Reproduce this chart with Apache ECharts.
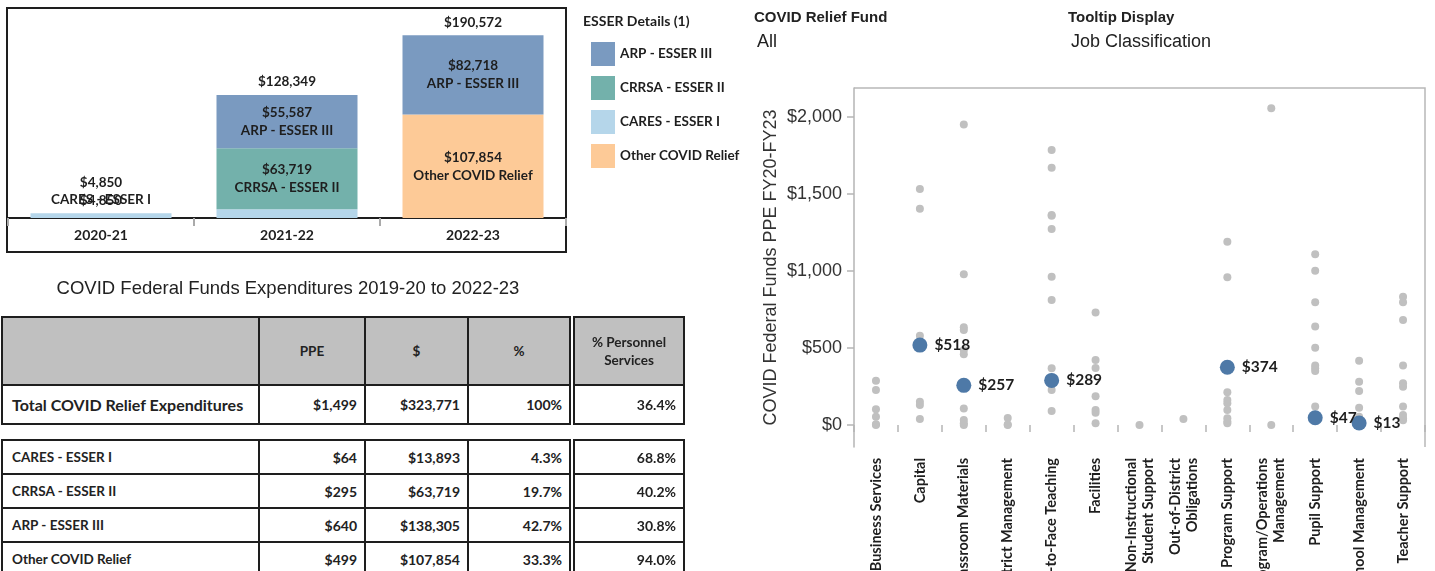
<!DOCTYPE html>
<html>
<head>
<meta charset="utf-8">
<title>COVID Federal Funds</title>
<script src="https://cdn.jsdelivr.net/npm/echarts@6/dist/echarts.min.js"></script>
<style>
  html, body { margin: 0; padding: 0; background: #fff; }
  #main { position: absolute; left: 0; top: 0; width: 1435px; height: 571px; }
  #tbl { position: absolute; left: 0; top: 0; }
  .cell { position: absolute; box-sizing: border-box; border: 2px solid #1e1e1e; background: #fff;
          display: flex; align-items: center; font-family: Lato, "Noto Sans", sans-serif;
          font-weight: bold; color: #222; font-size: 13.5px; overflow: hidden; }
</style>
</head>
<body>
<div id="main"></div>
<div id="tbl"></div>
<script>
// ---- stacked bars (ESSER details by year)
var years = ['2020-21', '2021-22', '2022-23'];
var caresVals = [4850, 9043, null];
var crrsaVals = [null, 63719, null];
var otherVals = [null, null, 107854];
var arpVals = [null, 55587, 82718];
var yearTotals = [4850, 128349, 190572];

// ---- table
var tableHead = ['PPE', '$', '%', '% Personnel\nServices'];
var totalRow = ['Total COVID Relief Expenditures', '$1,499', '$323,771', '100%', '36.4%'];
var fundNames = ['CARES - ESSER I', 'CRRSA - ESSER II', 'ARP - ESSER III', 'Other COVID Relief'];
var fundPPE = ['$64', '$295', '$640', '$499'];
var fundDollars = ['$13,893', '$63,719', '$138,305', '$107,854'];
var fundPct = ['4.3%', '19.7%', '42.7%', '33.3%'];
var fundPersonnel = ['68.8%', '40.2%', '30.8%', '94.0%'];

// ---- scatter (PPE by job classification)
var jobClasses = ['Business Services', 'Capital', 'Classroom Materials', 'District Management',
  'Face-to-Face Teaching', 'Facilities', 'Non-Instructional\nStudent Support', 'Out-of-District\nObligations',
  'Program Support', 'Program/Operations\nManagement', 'Pupil Support', 'School Management', 'Teacher Support'];
var districtPPE = [
  [287, 227, 102, 54, 4, 0],
  [1530, 1403, 579, 151, 130, 39],
  [1950, 977, 634, 616, 486, 458, 274, 248, 106, 32, 11, 0],
  [45, 3, 0],
  [1783, 1669, 1362, 1357, 1271, 962, 811, 368, 309, 227, 91],
  [729, 422, 370, 186, 97, 80, 11],
  [0],
  [39],
  [1189, 958, 212, 162, 141, 97, 43, 22, 11],
  [2054, 0],
  [1107, 1001, 796, 638, 501, 385, 368, 350, 119, 52],
  [417, 281, 220, 112, 54, 20],
  [832, 796, 681, 385, 270, 248, 119, 65, 43, 30]
];
var avgPPE = [null, 518, 257, null, 289, null, null, null, 374, null, 47, 13, null];
var yTicks = [0, 500, 1000, 1500, 2000];

var fontBook = 'Lato, "Noto Sans", sans-serif';
var fontArial = '"Liberation Sans", Arial, sans-serif';

function money(v) {
  return '$' + Number(v).toLocaleString('en-US');
}

var segLabel = {
  show: true, position: 'inside', fontFamily: fontBook, fontWeight: 700, fontSize: 13.5,
  color: '#1e1e1e', lineHeight: 18, textBorderWidth: 0,
  formatter: function (p) {
    return p.value > 20000 ? money(p.value) + '\n' + p.seriesName : '';
  }
};

function barSeries(name, vals, color) {
  return {
    name: name, type: 'bar', stack: 'esser', barWidth: 141,
    xAxisIndex: 0, yAxisIndex: 0,
    itemStyle: { color: color },
    label: segLabel,
    data: vals.map(function (v, i) {
      // the tiny 2020-21 segment gets its name drawn above the bar
      if (name === 'CARES - ESSER I' && i === 0) {
        return { value: v, label: { position: 'top', distance: 5, formatter: name } };
      }
      return v;
    })
  };
}

var greyPoints = [];
districtPPE.forEach(function (arr, i) {
  arr.forEach(function (v) { greyPoints.push([i, v]); });
});
var avgPoints = [];
avgPPE.forEach(function (v, i) {
  if (v !== null) avgPoints.push([i, v]);
});

var chart = echarts.init(document.getElementById('main'));

var option = {
  animation: false,
  grid: [
    { left: 8, top: 9, width: 558, height: 209, outerBoundsMode: 'none', containLabel: false },
    { left: 854, top: 88, width: 571, height: 359, outerBoundsMode: 'none', containLabel: false }
  ],
  legend: {
    data: ['ARP - ESSER III', 'CRRSA - ESSER II', 'CARES - ESSER I', 'Other COVID Relief'],
    orient: 'vertical', left: 586, top: 37, itemWidth: 24, itemHeight: 24, itemGap: 10,
    icon: 'rect', selectedMode: false,
    textStyle: { fontFamily: fontBook, fontWeight: 700, fontSize: 13.5, color: '#1e1e1e' }
  },
  xAxis: [
    {
      gridIndex: 0, type: 'category', data: years,
      axisLine: { lineStyle: { color: '#1e1e1e', width: 2 } },
      axisTick: { show: true, length: 8, lineStyle: { color: '#aaa', width: 2 } },
      axisLabel: { interval: 0, margin: 10, fontFamily: fontBook, fontWeight: 700, fontSize: 14, color: '#1e1e1e' }
    },
    {
      gridIndex: 1, type: 'category', data: jobClasses,
      axisLine: { show: false },
      axisTick: { show: true, length: 7, lineStyle: { color: '#b5b5b5', width: 1.5 } },
      axisLabel: { interval: 0, rotate: 90, margin: 11, lineHeight: 17, fontFamily: fontBook,
        fontWeight: 700, fontSize: 14.5, color: '#1e1e1e' }
    }
  ],
  yAxis: [
    { gridIndex: 0, type: 'value', min: 0, max: 218000, show: false },
    {
      gridIndex: 1, type: 'value', min: -143, max: 2186,
      name: 'COVID Federal Funds PPE FY20-FY23', nameLocation: 'middle', nameGap: 74,
      nameTextStyle: { fontFamily: fontArial, fontSize: 18, color: '#333' },
      axisLine: { show: true, lineStyle: { color: '#b5b5b5', width: 1.5 } },
      axisTick: { show: true, length: 7, customValues: yTicks, lineStyle: { color: '#b5b5b5', width: 1.5 } },
      axisLabel: { customValues: yTicks, margin: 12, fontFamily: fontArial, fontSize: 18, color: '#333',
        formatter: function (v) { return money(v); } },
      splitLine: { show: false }
    }
  ],
  series: [
    barSeries('CARES - ESSER I', caresVals, '#b5d6ea'),
    barSeries('CRRSA - ESSER II', crrsaVals, '#73b1ab'),
    barSeries('Other COVID Relief', otherVals, '#fdca97'),
    barSeries('ARP - ESSER III', arpVals, '#7a9ac0'),
    {
      // year totals above each stack
      name: 'Total', type: 'scatter', xAxisIndex: 0, yAxisIndex: 0,
      symbolSize: 0.01, itemStyle: { color: '#1e1e1e', opacity: 1 }, silent: true,
      data: yearTotals.map(function (v, i) { return [i, v]; }),
      label: {
        show: true, position: 'top', distance: 4, lineHeight: 18, textBorderWidth: 0,
        fontFamily: fontBook, fontWeight: 700, fontSize: 13.5, color: '#1e1e1e',
        formatter: function (p) {
          var t = money(p.value[1]);
          return p.dataIndex === 0 ? t + '\n' + t : t;
        }
      }
    },
    {
      name: 'District', type: 'scatter', xAxisIndex: 1, yAxisIndex: 1,
      symbolSize: 8, itemStyle: { color: '#c0c0c0', opacity: 1 }, silent: true, z: 2,
      data: greyPoints
    },
    {
      name: 'Average', type: 'scatter', xAxisIndex: 1, yAxisIndex: 1,
      symbolSize: 15, itemStyle: { color: '#4e79a7', opacity: 1 }, z: 3,
      data: avgPoints,
      label: {
        show: true, position: 'right', distance: 7, textBorderWidth: 0,
        fontFamily: fontBook, fontWeight: 700, fontSize: 15.5, color: '#1e1e1e',
        formatter: function (p) { return money(p.value[1]); }
      }
    }
  ],
  graphic: [
    { type: 'rect', silent: true, shape: { x: 7, y: 8, width: 559, height: 244 },
      style: { fill: 'none', stroke: '#1e1e1e', lineWidth: 2 } },
    { type: 'text', x: 583, y: 21, style: { text: 'ESSER Details (1)', font: 'bold 14px Lato', fill: '#1e1e1e', verticalAlign: 'middle' } },
    { type: 'text', x: 288, y: 289, style: { text: 'COVID Federal Funds Expenditures 2019-20 to 2022-23',
      font: '18.5px "Liberation Sans"', fill: '#222', align: 'center', verticalAlign: 'middle' } },
    { type: 'text', x: 754, y: 18, style: { text: 'COVID Relief Fund', font: 'bold 15px "Liberation Sans"', fill: '#222', verticalAlign: 'middle' } },
    { type: 'text', x: 757, y: 42, style: { text: 'All', font: '18px "Liberation Sans"', fill: '#222', verticalAlign: 'middle' } },
    { type: 'text', x: 1068, y: 18, style: { text: 'Tooltip Display', font: 'bold 15px "Liberation Sans"', fill: '#222', verticalAlign: 'middle' } },
    { type: 'text', x: 1071, y: 42, style: { text: 'Job Classification', font: '18px "Liberation Sans"', fill: '#222', verticalAlign: 'middle' } },
    { type: 'polyline', silent: true, shape: { points: [[854, 88], [1425, 88], [1425, 447]] },
      style: { fill: 'none', stroke: '#b8b8b8', lineWidth: 1.5 } }
  ]
};

chart.setOption(option);

// ---- table drawn as positioned cells
var tbl = document.getElementById('tbl');
var colEdges = [1, 258, 364, 467, 569];
var persEdges = [573, 683];

function cell(x0, x1, y0, y1, text, align, extra) {
  var d = document.createElement('div');
  d.className = 'cell';
  d.style.left = x0 + 'px';
  d.style.top = y0 + 'px';
  d.style.width = (x1 - x0 + 2) + 'px';
  d.style.height = (y1 - y0 + 2) + 'px';
  d.textContent = text;
  if (align === 'center') {
    d.style.justifyContent = 'center';
    d.style.textAlign = 'center';
  } else if (align === 'right') {
    d.style.justifyContent = 'flex-end';
    d.style.paddingRight = '7px';
  } else {
    d.style.paddingLeft = '9px';
  }
  for (var k in (extra || {})) d.style[k] = extra[k];
  tbl.appendChild(d);
}

function edgesFor(i) {
  return i < 4 ? [colEdges[i], colEdges[i + 1]] : persEdges;
}

// header
var headStyle = { background: '#c0c0c0', whiteSpace: 'pre-line', lineHeight: '18px', fontSize: '13.5px' };
cell(colEdges[0], colEdges[1], 316, 384, '', 'left', { background: '#c0c0c0' });
tableHead.forEach(function (h, j) {
  var e = edgesFor(j + 1);
  cell(e[0], e[1], 316, 384, h, 'center', headStyle);
});

// total row
totalRow.forEach(function (t, j) {
  var e = edgesFor(j);
  if (j === 0) cell(e[0], e[1], 384, 423, t, 'left', { fontSize: '16px' });
  else cell(e[0], e[1], 384, 423, t, 'right', { fontSize: '14px' });
});

// fund rows
var rowTops = [439, 473, 507, 541, 575];
fundNames.forEach(function (name, r) {
  var y0 = rowTops[r], y1 = rowTops[r + 1];
  var vals = [name, fundPPE[r], fundDollars[r], fundPct[r], fundPersonnel[r]];
  vals.forEach(function (t, j) {
    var e = edgesFor(j);
    cell(e[0], e[1], y0, y1, t, j === 0 ? 'left' : 'right', { fontSize: j === 0 ? '13.5px' : '14px' });
  });
});
</script>
</body>
</html>
